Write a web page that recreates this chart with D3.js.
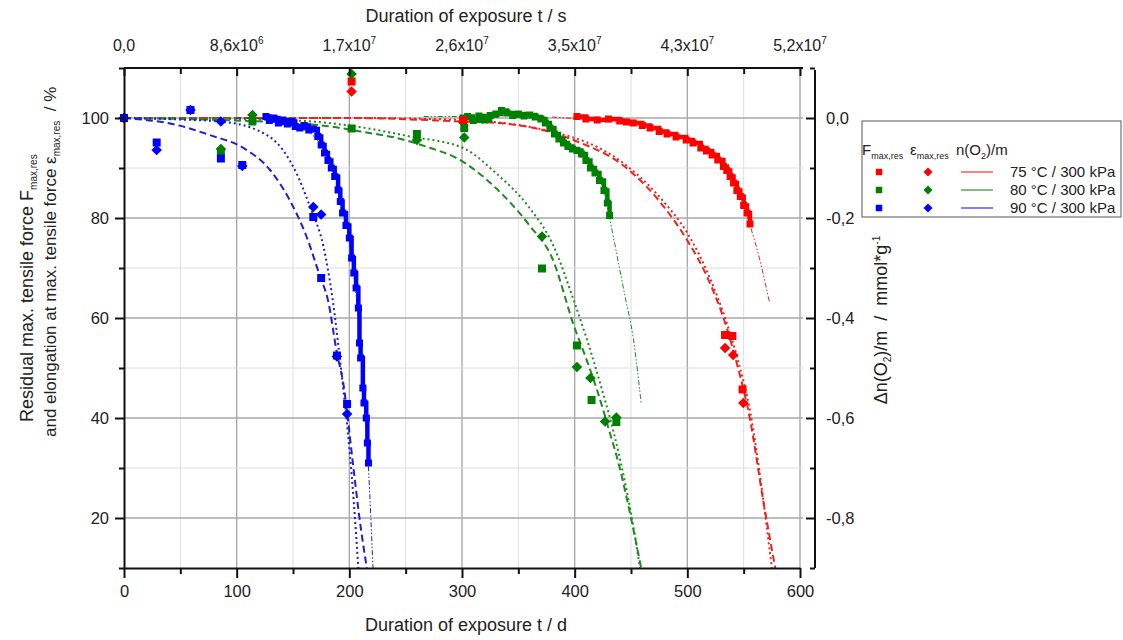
<!DOCTYPE html>
<html>
<head>
<meta charset="utf-8">
<script src="https://cdn.jsdelivr.net/npm/d3@7/dist/d3.min.js"></script>
<style>
  body { margin: 0; background: #fff; }
  svg { font-family: "Liberation Sans", Arial, sans-serif; }
</style>
</head>
<body>
<div id="vizcontainer"></div>
<script>
const width = 1123, height = 640;

// tensile test results [day, %]
const fRed   = [[0,100],[202,107.3],[301,99.6],[533.5,56.6],[540,56.4],[549,45.7]];
const eRed   = [[0,100],[202,105.3],[301,99.2],[533.5,54],[540.7,52.6],[549.7,43]];
const fGreen = [[0,100],[86,93.2],[114,99.3],[202,97.9],[260,96.8],[302,98],[371,69.9],[402,54.5],[415,43.6],[437,39.2]];
const eGreen = [[0,100],[86,93.8],[114,100.6],[202,108.8],[260,95.6],[302,96.1],[371,76.3],[402,50.2],[414,48],[427,39.3],[437,40.1]];
const fBlue  = [[0,100],[29,95.1],[59,101.6],[86,91.9],[105,90.6],[168,80.2],[175,68],[189,52.5],[198,42.8]];
const eBlue  = [[0,100],[29,93.6],[59,101.6],[86,99.3],[105,90.4],[168,82.2],[175,80.7],[189,52.3],[198,40.8]];

// fitted curves for F (dashed) and eps (dotted) [day, %]
const fFitRed   = [[0,100],[200,100],[300,99.3],[333,99],[400,95.5],[446,90],[480,82],[500,75.5],[517,68.5],[535,58],[545,50],[555,40.5],[567,24],[578,10]];
const eFitRed   = [[0,100],[200,100],[300,99.6],[400,96],[446,90.5],[480,83],[500,77],[520,68],[535,59],[545,51.5],[556,41],[566,26],[575,10]];
const fFitGreen = [[0,100],[100,99.5],[150,99],[183,98.3],[210,97.3],[242,96],[272,94],[295,92],[330,86],[360,78.5],[380,72],[400,58],[410,52],[420,45.5],[430,38],[440,30],[450,20],[459,10]];
const eFitGreen = [[0,100],[150,99.5],[200,98.5],[254,96.3],[301,94],[330,89],[360,82],[380,75],[400,63],[420,49],[440,32],[450,21],[458,10]];
const fFitBlue  = [[0,100],[47,98.6],[76,96.6],[106,94],[130,89.5],[147,83.6],[162,76.3],[174,68.3],[181,63.6],[189,53],[194.6,47],[203.5,30.3],[209,20],[215.5,10]];
const eFitBlue  = [[0,100],[50,99.7],[85,99.3],[118,97.6],[141,93.6],[153,89],[165,82.3],[177,74.3],[185,64],[190,55],[195,45],[200,34],[204,23],[208,10]];

// oxygen consumption n(O2)/m [day, mmol/g]
const nRed   = [[402,0.003],[410,-0.002],[420,-0.004],[430,-0.002],[440,-0.006],[446,-0.008],[452,-0.01],[460,-0.015],[467,-0.02],[475,-0.027],[482,-0.032],[490,-0.038],[499,-0.044],[505,-0.05],[512,-0.06],[517,-0.066],[522,-0.074],[527,-0.084],[532,-0.097],[535,-0.105],[538,-0.117],[541,-0.13],[544,-0.145],[547,-0.157],[550,-0.175],[553,-0.19],[555.6,-0.212]];
const nGreen = [[301,0],[305,0.003],[310,-0.005],[315,0.004],[320,-0.004],[325,0.005],[330,0.008],[335,0.015],[340,0.01],[345,0.005],[350,0.008],[355,0.004],[360,0.006],[365,0.002],[370,-0.002],[374,-0.01],[378,-0.02],[382,-0.032],[386,-0.042],[390,-0.05],[394,-0.057],[398,-0.062],[402,-0.065],[406,-0.072],[410,-0.085],[414,-0.1],[418,-0.11],[422,-0.125],[426,-0.145],[429,-0.17],[431,-0.195]];
const nBlue  = [[126,0.003],[129,-0.005],[133,0],[137,-0.01],[141,-0.004],[145,-0.012],[149,-0.007],[152,-0.017],[156,-0.02],[160,-0.015],[164,-0.024],[168,-0.022],[172,-0.037],[175,-0.054],[178,-0.07],[181,-0.085],[184,-0.1],[187,-0.117],[190,-0.144],[192,-0.167],[194,-0.19],[197,-0.215],[200,-0.24],[202,-0.28],[204,-0.31],[206,-0.34],[208,-0.38],[209,-0.45],[210,-0.48],[212,-0.54],[213,-0.57],[215,-0.6],[216,-0.65],[217,-0.69]];
const nFitRed   = [[380,0.002],[420,-0.005],[460,-0.015],[500,-0.045],[520,-0.07],[540,-0.12],[555,-0.21],[565,-0.29],[573,-0.37]];
const nFitGreen = [[266,0.003],[300,0.003],[340,0.005],[370,-0.005],[390,-0.045],[410,-0.09],[425,-0.14],[431,-0.2],[438,-0.28],[445,-0.36],[452,-0.44],[456,-0.51],[459,-0.57]];
const nFitBlue  = [[100,0],[140,-0.005],[170,-0.04],[185,-0.1],[195,-0.18],[202,-0.28],[208,-0.4],[213,-0.55],[217,-0.7],[221,-0.9]];

const seriesNames = ['75 °C / 300 kPa', '80 °C / 300 kPa', '90 °C / 300 kPa'];
const bottomTicks = [0, 100, 200, 300, 400, 500, 600];
const leftTicks = [20, 40, 60, 80, 100];
const rightTicks = ['0,0', '-0,2', '-0,4', '-0,6', '-0,8'];
const topTicks = [['0,0', ''], ['8,6x10', '6'], ['1,7x10', '7'], ['2,6x10', '7'], ['3,5x10', '7'], ['4,3x10', '7'], ['5,2x10', '7']];

const colors = ['#ff0000', '#008000', '#0000ff'];
const fitColors = ['#e8251f', '#1f8a1f', '#1f1fd0'];

const L = 124, R = 800, T = 68, B = 568, RA = 815;

const svg = d3.select('#vizcontainer').append('svg')
  .attr('width', width).attr('height', height);

const x = d3.scaleLinear().domain([0, 600]).range([L, R]);
const y = d3.scaleLinear().domain([10, 110]).range([B, T]);
const yR = d3.scaleLinear().domain([-0.9, 0.1]).range([B, T]);
const xs = d3.scaleLinear().domain([0, 600 * 86400]).range([L, R]);

// grid
const grid = svg.append('g');
d3.range(50, 601, 50).forEach(d => {
  grid.append('line').attr('x1', x(d)).attr('x2', x(d)).attr('y1', T).attr('y2', B)
    .attr('stroke', d % 100 === 0 ? '#a9a9a9' : '#dedede').attr('stroke-width', d % 100 === 0 ? 1.4 : 1);
});
d3.range(20, 101, 10).forEach(d => {
  grid.append('line').attr('x1', L).attr('x2', R + 3).attr('y1', y(d)).attr('y2', y(d))
    .attr('stroke', d % 20 === 0 ? '#a9a9a9' : '#dedede').attr('stroke-width', d % 20 === 0 ? 1.4 : 1);
});

svg.append('clipPath').attr('id', 'plotclip')
  .append('rect').attr('x', L).attr('y', T).attr('width', R - L + 5).attr('height', B - T);
const plot = svg.append('g').attr('clip-path', 'url(#plotclip)');

const lineL = d3.line().x(d => x(d[0])).y(d => y(d[1])).curve(d3.curveMonotoneX);
const lineR = d3.line().x(d => x(d[0])).y(d => yR(d[1])).curve(d3.curveMonotoneX);
const lineStep = d3.line().x(d => x(d[0])).y(d => yR(d[1])).curve(d3.curveStepAfter);

const fFits = [fFitRed, fFitGreen, fFitBlue];
const eFits = [eFitRed, eFitGreen, eFitBlue];
const nFits = [nFitRed, nFitGreen, nFitBlue];
const nData = [nRed, nGreen, nBlue];
const fData = [fRed, fGreen, fBlue];
const eData = [eRed, eGreen, eBlue];

[0, 1, 2].forEach(i => {
  plot.append('path').datum(nFits[i]).attr('d', lineR).attr('fill', 'none')
    .attr('stroke', fitColors[i]).attr('stroke-width', 1).attr('stroke-dasharray', '5,2,1.5,2,1.5,2');
  plot.append('path').datum(fFits[i]).attr('d', lineL).attr('fill', 'none')
    .attr('stroke', fitColors[i]).attr('stroke-width', 2).attr('stroke-dasharray', '7,4');
  plot.append('path').datum(eFits[i]).attr('d', lineL).attr('fill', 'none')
    .attr('stroke', fitColors[i]).attr('stroke-width', 2).attr('stroke-dasharray', '2,3');
});

// measured oxygen consumption
[0, 1, 2].forEach(i => {
  plot.append('path').datum(nData[i]).attr('d', lineStep).attr('fill', 'none')
    .attr('stroke', colors[i]).attr('stroke-width', 4.5);
  plot.append('g').selectAll('rect').data(nData[i]).join('rect')
    .attr('x', d => x(d[0]) - 3.5).attr('y', d => yR(d[1]) - 3.5)
    .attr('width', 7).attr('height', 7).attr('fill', colors[i]);
});

const sq = d3.symbol().type(d3.symbolSquare).size(64);
const dia = d3.symbol().type(d3.symbolSquare).size(56);
[0, 1, 2].forEach(i => {
  svg.append('g').selectAll('path').data(fData[i]).join('path')
    .attr('d', sq).attr('fill', colors[i])
    .attr('transform', d => `translate(${x(d[0])},${y(d[1])})`);
  svg.append('g').selectAll('path').data(eData[i]).join('path')
    .attr('d', dia).attr('fill', colors[i])
    .attr('transform', d => `translate(${x(d[0])},${y(d[1])}) rotate(45)`);
});

// axes
function styleAxis(g) {
  g.select('.domain').attr('stroke', '#111').attr('stroke-width', 2);
  g.selectAll('.tick line').attr('stroke', '#111').attr('stroke-width', 2);
  g.selectAll('.tick text').attr('font-size', 16.5).attr('fill', '#222')
    .attr('font-family', '"Liberation Sans", Arial, sans-serif');
}

const gB = svg.append('g').attr('transform', `translate(0,${B})`)
  .call(d3.axisBottom(x).tickValues(d3.range(0, 601, 50)).tickSize(10).tickSizeOuter(0).tickPadding(7)
    .tickFormat(d => bottomTicks.includes(d) ? d : ''));
styleAxis(gB);
gB.selectAll('.tick line').filter(d => d % 100 !== 0).attr('y2', 6);

const gL = svg.append('g').attr('transform', `translate(${L},0)`)
  .call(d3.axisLeft(y).tickValues(d3.range(10, 111, 10)).tickSize(9).tickSizeOuter(0).tickPadding(6)
    .tickFormat(d => leftTicks.includes(d) ? d : ''));
styleAxis(gL);
gL.selectAll('.tick line').filter(d => d % 20 !== 0).attr('x2', -5);

const gT = svg.append('g').attr('transform', `translate(0,${T})`)
  .call(d3.axisTop(xs).tickValues(d3.range(0, 13).map(k => k * 4.32e6)).tickSize(-8).tickSizeOuter(0)
    .tickFormat(''));
styleAxis(gT);
gT.select('.domain').attr('d', `M${L},0H${R + 3}`);
gT.selectAll('.tick line').filter((d, k) => k % 2 === 1).attr('y2', 6);
topTicks.forEach((t, k) => {
  const tx = svg.append('text').attr('x', xs(k * 8.64e6)).attr('y', 51)
    .attr('text-anchor', 'middle').attr('font-size', 16).attr('fill', '#222');
  tx.append('tspan').text(t[0]);
  if (t[1]) tx.append('tspan').attr('font-size', 10).attr('dy', -7).text(t[1]);
});

const gR = svg.append('g').attr('transform', `translate(${RA},0)`)
  .call(d3.axisRight(yR).tickValues(d3.range(-9, 2).map(k => k / 10)).tickSize(-9).tickSizeOuter(0).tickPadding(11)
    .tickFormat(d => {
      const k = Math.round(-d * 10);
      return k >= 0 && k % 2 === 0 ? rightTicks[k / 2] : '';
    }));
styleAxis(gR);
gR.selectAll('.tick line').filter(d => Math.round(d * 10) % 2 !== 0).attr('x2', -5);
gR.select('.domain').attr('d', `M0,${T + 2}V${B}`);

// titles
svg.append('text').attr('x', 466).attr('y', 22).attr('text-anchor', 'middle')
  .attr('font-size', 18).attr('fill', '#222').text('Duration of exposure t / s');
svg.append('text').attr('x', 466).attr('y', 631).attr('text-anchor', 'middle')
  .attr('font-size', 18).attr('fill', '#222').text('Duration of exposure t / d');

const t1 = svg.append('text').attr('transform', 'translate(33,422) rotate(-90)')
  .attr('font-size', 18).attr('fill', '#222');
t1.append('tspan').text('Residual max. tensile force F');
t1.append('tspan').attr('font-size', 10).attr('dy', 4).text('max,res');

const t2 = svg.append('text').attr('transform', 'translate(56,437) rotate(-90)')
  .attr('font-size', 17).attr('fill', '#222').attr('xml:space', 'preserve');
t2.append('tspan').text('and elongation at max. tensile force ε');
t2.append('tspan').attr('font-size', 10).attr('dy', 4).text('max,res');
t2.append('tspan').attr('dy', -4).text('  / %');

const t3 = svg.append('text').attr('transform', 'translate(887,320) rotate(-90)')
  .attr('text-anchor', 'middle').attr('font-size', 18).attr('fill', '#222').attr('xml:space', 'preserve');
t3.append('tspan').text('Δn(O');
t3.append('tspan').attr('font-size', 10).attr('dy', 4).text('2');
t3.append('tspan').attr('dy', -4).text(')/m  /  mmol*g');
t3.append('tspan').attr('font-size', 10).attr('dy', -7).text('-1');

// legend
const lg = svg.append('g');
lg.append('rect').attr('x', 862).attr('y', 121).attr('width', 259).attr('height', 96)
  .attr('fill', '#fff').attr('stroke', '#555').attr('stroke-width', 1);
const h1 = lg.append('text').attr('x', 862).attr('y', 155).attr('font-size', 15).attr('fill', '#222');
h1.append('tspan').text('F');
h1.append('tspan').attr('font-size', 9).attr('dy', 4).text('max,res');
const h2 = lg.append('text').attr('x', 910).attr('y', 155).attr('font-size', 15).attr('fill', '#222');
h2.append('tspan').text('ε');
h2.append('tspan').attr('font-size', 9).attr('dy', 4).text('max,res');
const h3 = lg.append('text').attr('x', 956).attr('y', 155).attr('font-size', 15).attr('fill', '#222');
h3.append('tspan').text('n(O');
h3.append('tspan').attr('font-size', 9).attr('dy', 4).text('2');
h3.append('tspan').attr('dy', -4).text(')/m');

seriesNames.forEach((name, i) => {
  const ry = 172 + i * 18;
  lg.append('path').attr('d', d3.symbol().type(d3.symbolSquare).size(42)())
    .attr('transform', `translate(879,${ry})`).attr('fill', colors[i]);
  lg.append('path').attr('d', d3.symbol().type(d3.symbolSquare).size(40)())
    .attr('transform', `translate(928,${ry}) rotate(45)`).attr('fill', colors[i]);
  lg.append('line').attr('x1', 961).attr('x2', 993).attr('y1', ry).attr('y2', ry)
    .attr('stroke', colors[i]).attr('stroke-width', 1);
  lg.append('text').attr('x', 1010).attr('y', ry + 5).attr('font-size', 15).attr('fill', '#222').text(name);
});
</script>
</body>
</html>
